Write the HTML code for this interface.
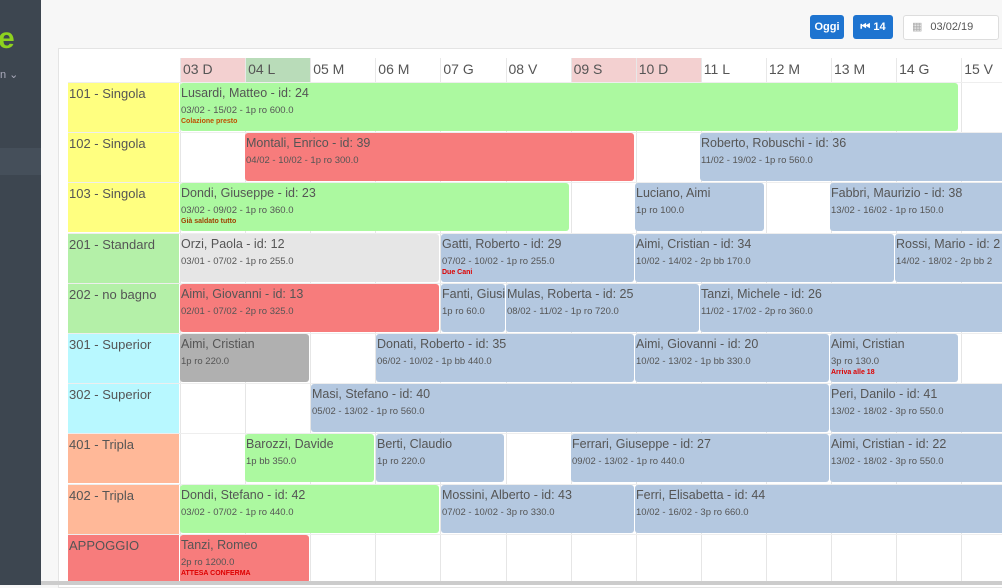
<!DOCTYPE html>
<html><head><meta charset="utf-8"><style>
body{margin:0;width:1002px;height:585px;overflow:hidden;background:#f7f7f7;font-family:"Liberation Sans",sans-serif;position:relative;color:#555}
.a{position:absolute;box-sizing:border-box}
.sb{left:0;top:0;width:41px;height:585px;background:#3d4650}
.panel{left:58px;top:48px;width:960px;height:540px;background:#fff;border:1px solid #e4e4e4}
.h{top:58px;height:24px;font-size:14px;padding:3px 0 0 2px;color:#555;border-left:1px solid #e8e8e8}
.vl{top:82px;height:503px;width:1px;background:#e6e6e6}
.hl{left:68px;width:934px;height:1px;background:#eee}
.rm{left:68px;width:111px;font-size:13px;padding:3px 0 0 1px;color:#555}
.b{font-size:12.5px;padding:3px 0 0 1px;border-radius:3px;overflow:hidden;white-space:nowrap;color:#555}
.b i{display:block;font-style:normal;font-size:9.5px;margin-top:5px}
.b u{display:block;text-decoration:none;font-size:7px;color:#d00;margin-top:2px;font-weight:bold}
.g{background:#acf9a0}.r{background:#f77c7c}.bl{background:#b4c8e0}.gy{background:#e6e6e6}.dg{background:#b0b0b0}
.btn{top:15px;height:24px;background:#1e74d0;color:#fff;font-size:11px;border-radius:3px;text-align:center;line-height:24px;font-weight:bold}
</style></head><body>
<div class="a sb"></div>
<div class="a" style="left:0;top:148px;width:41px;height:27px;background:#454f5a"></div>
<div class="a" style="left:-2px;top:22px;font-size:30px;color:#8ed11f;font-weight:bold">e</div>
<div class="a" style="left:0;top:68px;font-size:11px;color:#aab">n ⌄</div>
<div class="a panel"></div>
<div class="a btn" style="left:810px;width:34px">Oggi</div>
<div class="a btn" style="left:853px;width:40px">⏮ 14</div>
<div class="a" style="left:903px;top:15px;width:96px;height:25px;border:1px solid #ddd;border-radius:3px;background:#fff;font-size:11px;line-height:23px;color:#555"><span style="color:#aaa;padding:0 8px">▦</span>03/02/19</div>
<div class="a" style="left:180px;top:58px;width:65px;height:24px;background:#f3d0d0"></div>
<div class="a" style="left:245px;top:58px;width:66px;height:24px;background:#b9dcb9"></div>
<div class="a" style="left:571px;top:58px;width:130px;height:24px;background:#f3d0d0"></div>
<div id="g"></div>
<script>
var X=i=>180+65.1*i, Y=j=>82+50.2*j, o='';
var days=['03 D','04 L','05 M','06 M','07 G','08 V','09 S','10 D','11 L','12 M','13 M','14 G','15 V'];
days.forEach((d,i)=>{o+=`<div class="a h" style="left:${X(i)}px;width:65px">${d}</div><div class="a vl" style="left:${X(i)}px"></div>`});
for(var j=0;j<=10;j++)o+=`<div class="a hl" style="top:${Y(j)}px"></div>`;
var rooms=[['101 - Singola','#ffff80'],['102 - Singola','#ffff80'],['103 - Singola','#ffff80'],['201 - Standard','#b4f0a8'],['202 - no bagno','#b4f0a8'],['301 - Superior','#b8f8ff'],['302 - Superior','#b8f8ff'],['401 - Tripla','#ffb898'],['402 - Tripla','#ffb898'],['APPOGGIO','#f77c7c']];
rooms.forEach((r,j)=>{o+=`<div class="a rm" style="top:${Y(j)+1}px;height:49px;background:${r[1]}">${r[0]}</div>`});
var B=[
[0,180,958,'g','Lusardi, Matteo - id: 24','03/02 - 15/02 - 1p ro 600.0','Colazione presto','#c05000'],
[1,245,634,'r','Montali, Enrico - id: 39','04/02 - 10/02 - 1p ro 300.0'],
[1,700,1010,'bl','Roberto, Robuschi - id: 36','11/02 - 19/02 - 1p ro 560.0'],
[2,180,569,'g','Dondi, Giuseppe - id: 23','03/02 - 09/02 - 1p ro 360.0','Già saldato tutto','#a04000'],
[2,635,764,'bl','Luciano, Aimi','1p ro 100.0'],
[2,830,1010,'bl','Fabbri, Maurizio - id: 38','13/02 - 16/02 - 1p ro 150.0'],
[3,180,439,'gy','Orzi, Paola - id: 12','03/01 - 07/02 - 1p ro 255.0'],
[3,441,634,'bl','Gatti, Roberto - id: 29','07/02 - 10/02 - 1p ro 255.0','Due Cani'],
[3,635,894,'bl','Aimi, Cristian - id: 34','10/02 - 14/02 - 2p bb 170.0'],
[3,895,1010,'bl','Rossi, Mario - id: 2','14/02 - 18/02 - 2p bb 2'],
[4,180,439,'r','Aimi, Giovanni - id: 13','02/01 - 07/02 - 2p ro 325.0'],
[4,441,505,'bl','Fanti, Giusi','1p ro 60.0'],
[4,506,699,'bl','Mulas, Roberta - id: 25','08/02 - 11/02 - 1p ro 720.0'],
[4,700,1010,'bl','Tanzi, Michele - id: 26','11/02 - 17/02 - 2p ro 360.0'],
[5,180,309,'dg','Aimi, Cristian','1p ro 220.0'],
[5,376,634,'bl','Donati, Roberto - id: 35','06/02 - 10/02 - 1p bb 440.0'],
[5,635,829,'bl','Aimi, Giovanni - id: 20','10/02 - 13/02 - 1p bb 330.0'],
[5,830,958,'bl','Aimi, Cristian','3p ro 130.0','Arriva alle 18'],
[6,311,829,'bl','Masi, Stefano - id: 40','05/02 - 13/02 - 1p ro 560.0'],
[6,830,1010,'bl','Peri, Danilo - id: 41','13/02 - 18/02 - 3p ro 550.0'],
[7,245,374,'g','Barozzi, Davide','1p bb 350.0'],
[7,376,504,'bl','Berti, Claudio','1p ro 220.0'],
[7,571,829,'bl','Ferrari, Giuseppe - id: 27','09/02 - 13/02 - 1p ro 440.0'],
[7,830,1010,'bl','Aimi, Cristian - id: 22','13/02 - 18/02 - 3p ro 550.0'],
[8,180,439,'g','Dondi, Stefano - id: 42','03/02 - 07/02 - 1p ro 440.0'],
[8,441,634,'bl','Mossini, Alberto - id: 43','07/02 - 10/02 - 3p ro 330.0'],
[8,635,1010,'bl','Ferri, Elisabetta - id: 44','10/02 - 16/02 - 3p ro 660.0'],
[9,180,309,'r','Tanzi, Romeo','2p ro 1200.0','ATTESA CONFERMA']];
B.forEach(b=>{o+=`<div class="a b ${b[3]}" style="left:${b[1]}px;top:${Y(b[0])+1}px;width:${b[2]-b[1]}px;height:48px">${b[4]}<i>${b[5]}</i>${b[6]?'<u'+(b[7]?' style="color:'+b[7]+'"':'')+'>'+b[6]+'</u>':''}</div>`});
o+='<div class="a" style="left:41px;top:581px;width:961px;height:4px;background:#ccc"></div>';
document.getElementById('g').innerHTML=o;
</script>
</body></html>
